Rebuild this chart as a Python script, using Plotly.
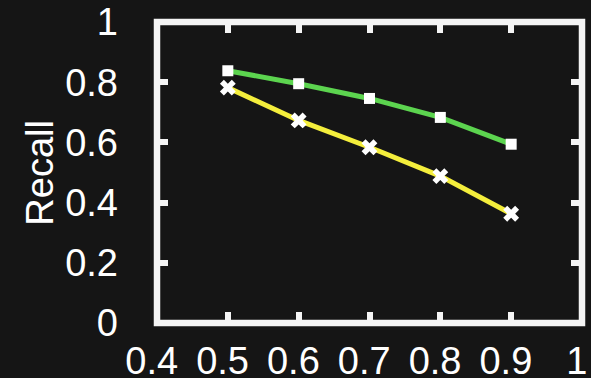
import plotly.graph_objects as go

thresholds = [0.5, 0.6, 0.7, 0.8, 0.9]
recall_green = [0.838, 0.795, 0.746, 0.683, 0.594]
recall_yellow = [0.782, 0.673, 0.584, 0.488, 0.363]
x_ticks = [0.4, 0.5, 0.6, 0.7, 0.8, 0.9, 1.0]
x_ticklabels = ["0.4", "0.5", "0.6", "0.7", "0.8", "0.9", "1"]
y_ticks = [0, 0.2, 0.4, 0.6, 0.8, 1.0]
y_ticklabels = ["0", "0.2", "0.4", "0.6", "0.8", "1"]
y_title = "Recall"

BG = "#151515"
FRAME = "#f4f4f4"
FONT = "Liberation Sans, Arial, sans-serif"
FS = 38

fig = go.Figure()
fig.add_trace(go.Scatter(
    x=thresholds, y=recall_green, mode="lines+markers",
    line=dict(color="#5cd44f", width=5),
    marker=dict(symbol="square", size=11, color="white", line=dict(width=0)),
    showlegend=False,
))
fig.add_trace(go.Scatter(
    x=thresholds, y=recall_yellow, mode="lines+markers",
    line=dict(color="#f4ee3c", width=5),
    marker=dict(symbol="x", size=14, color="white", line=dict(width=0)),
    showlegend=False,
))

axis_common = dict(
    showline=False, mirror="allticks", automargin=False,
    ticks="inside", ticklen=11, tickwidth=6, tickcolor=FRAME,
    showgrid=False, zeroline=False, ticklabeloverflow="allow",
    tickfont=dict(family=FONT, size=FS, color="white"),
)

fig.update_xaxes(
    range=[0.4, 1.0], tickvals=x_ticks,
    ticktext=[t + "\u00a0" for t in x_ticklabels],
    ticklabelstandoff=12, **axis_common,
)
fig.update_yaxes(
    range=[0, 1.0], tickvals=y_ticks, ticktext=y_ticklabels,
    ticklabelstandoff=38, **axis_common,
)

fig.add_annotation(
    text=y_title, xref="paper", yref="paper", x=(39 - 157) / 425.5, y=0.5,
    xanchor="center", yanchor="middle", textangle=-90, showarrow=False,
    font=dict(family=FONT, size=FS, color="white"),
)

# plot frame
fig.add_shape(type="rect", xref="paper", yref="paper", x0=0, x1=1, y0=0, y1=1,
              line=dict(color=FRAME, width=6.5), layer="above")

fig.update_layout(
    width=591, height=378,
    margin=dict(l=157, r=8.5, t=21.7, b=55.3),
    paper_bgcolor=BG, plot_bgcolor=BG,
)

fig.write_html(
    "out.html",
    config={"displayModeBar": False},
    post_script="document.body.style.margin='0';document.body.style.background='%s';" % BG,
)
